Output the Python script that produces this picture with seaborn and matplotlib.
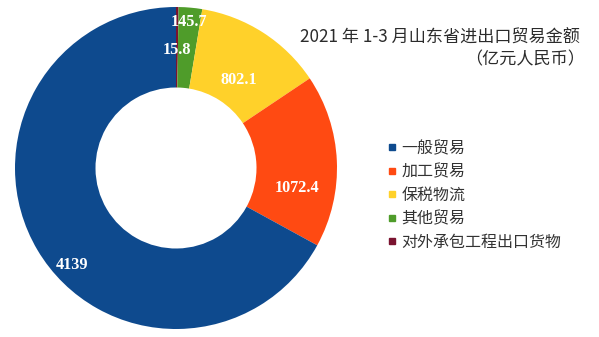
import numpy as np
import matplotlib
matplotlib.use("Agg")
import matplotlib.pyplot as plt
from matplotlib.lines import Line2D
import seaborn as sns

# Shandong import/export value by trade mode, Jan-Mar 2021 (100 million RMB)
categories = ["一般贸易", "加工贸易", "保税物流", "其他贸易", "对外承包工程出口货物"]
values = [4139, 1072.4, 802.1, 145.7, 15.8]
value_labels = ["4139", "1072.4", "802.1", "145.7", "15.8"]
colors = ["#0E4A8E", "#FF4A12", "#FFD12A", "#4F9C2A", "#7A1330"]

title_line1 = "2021 年 1-3 月山东省进出口贸易金额"
title_line2 = "（亿元人民币）"

sns.set_theme(style="white")
plt.rcParams["font.family"] = ["Noto Sans CJK SC", "DejaVu Sans"]

W, H = 599, 337
fig = plt.figure(figsize=(W / 100, H / 100), dpi=100)
fig.patch.set_facecolor("white")

# square axes holding the ring (outer radius = 1 data unit)
cx, cy, R = 176, 168, 161
ax = fig.add_axes([(cx - R) / W, (H - cy - R) / H, 2 * R / W, 2 * R / H])

# draw clockwise from 12 o'clock, smallest slice first
order = list(range(len(values)))[::-1]
pie_vals = [values[i] for i in order]
pie_cols = [colors[i] for i in order]
wedges, _ = ax.pie(pie_vals, colors=pie_cols, startangle=90, counterclock=False,
                   radius=1.0, wedgeprops=dict(width=0.5, edgecolor="none"))
ax.set_xlim(-1, 1)
ax.set_ylim(-1, 1)
ax.set_aspect("equal")
ax.axis("off")

# value labels placed along each slice's mid-angle
label_radius = {"4139": 0.75, "1072.4": 0.75, "802.1": 0.72, "145.7": 0.91, "15.8": 0.73}
label_shift = {"4139": -0.22, "1072.4": -0.155, "802.1": -0.06, "145.7": 0.0, "15.8": 0.0}
for w, i in zip(wedges, order):
    ang = np.deg2rad((w.theta1 + w.theta2) / 2)
    txt = value_labels[i]
    r = label_radius[txt]
    ax.text(r * np.cos(ang), r * np.sin(ang) + label_shift[txt], txt,
            ha="center", va="center", color="white", fontsize=11.7, fontweight="bold",
            family=["Liberation Serif", "DejaVu Serif"])

# title, right aligned at the top right
fig.text(580 / W, 1 - 38 / H, title_line1, ha="right", va="center",
         fontsize=12.3, color="#2b2b2b")
fig.text(585 / W, 1 - 59 / H, title_line2, ha="right", va="center",
         fontsize=12.3, color="#2b2b2b")

# legend with small square keys
handles = [Line2D([0], [0], marker="s", linestyle="none", markersize=5,
                  markerfacecolor=c, markeredgecolor=c) for c in colors]
fig.legend(handles, categories, loc="upper left",
           bbox_to_anchor=(378 / W, 1 - 132 / H), frameon=False,
           fontsize=11.5, handlelength=0.7, handletextpad=0.25,
           labelspacing=0.4, borderpad=0, labelcolor="#333333")

fig.savefig("out.png", dpi=100, facecolor="white")
